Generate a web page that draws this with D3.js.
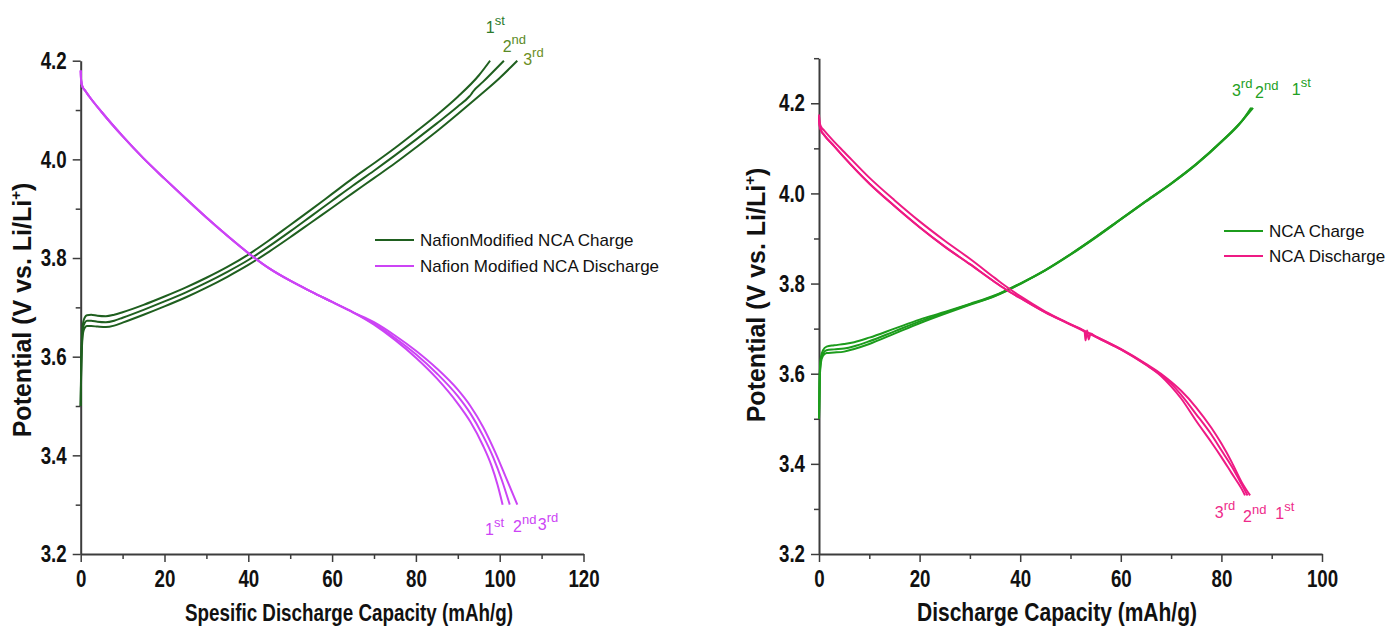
<!DOCTYPE html>
<html>
<head>
<meta charset="utf-8">
<script src="https://cdn.jsdelivr.net/npm/d3@7"></script>
<style>
  html, body { margin: 0; padding: 0; background: #fff; }
  svg { display: block; }
  .tick text { font-family: "Liberation Sans", Arial, sans-serif; font-weight: bold; font-size: 24px; fill: #111; }
</style>
</head>
<body>
<svg id="chart" width="1391" height="628"></svg>
<script>
// ---- Nafion-modified NCA: charge curves, cycles 1-3 (capacity mAh/g, potential V)
const nafionCharge1 = [[0,3.50],[0.1,3.58],[0.3,3.64],[0.6,3.67],[1,3.68],[1.5,3.684],[2.5,3.685],[4,3.683],[6,3.682],[8,3.685],[10,3.69],[15,3.705],[20,3.722],[25,3.74],[30,3.76],[35,3.782],[40,3.807],[45,3.836],[50,3.867],[55,3.898],[60,3.93],[65,3.962],[70,3.992],[75,4.023],[80,4.056],[85,4.09],[90,4.127],[95,4.17],[97.7,4.2]];
const nafionCharge2 = [[0,3.50],[0.1,3.57],[0.3,3.63],[0.6,3.66],[1,3.669],[1.5,3.673],[2.5,3.673],[4,3.671],[6,3.67],[8,3.673],[10,3.679],[15,3.695],[20,3.712],[25,3.73],[30,3.75],[35,3.772],[40,3.796],[45,3.824],[50,3.854],[55,3.885],[60,3.916],[65,3.947],[70,3.977],[75,4.008],[80,4.04],[85,4.073],[90,4.107],[92.8,4.128],[93.2,4.132],[93.6,4.137],[96,4.157],[101,4.2]];
const nafionCharge3 = [[0,3.50],[0.1,3.56],[0.3,3.62],[0.6,3.65],[1,3.659],[1.5,3.662],[2.5,3.662],[4,3.661],[6,3.66],[8,3.663],[10,3.669],[15,3.685],[20,3.702],[25,3.72],[30,3.74],[35,3.762],[40,3.786],[45,3.813],[50,3.842],[55,3.872],[60,3.902],[65,3.932],[70,3.962],[75,3.992],[80,4.024],[85,4.057],[90,4.092],[95,4.128],[100,4.165],[104.2,4.2]];

// ---- Nafion-modified NCA: discharge curves, cycles 1-3
const nafionDischarge1 = [[0,4.18],[0.1,4.16],[0.4,4.148],[1,4.14],[2,4.128],[5,4.096],[10,4.047],[15,4.002],[20,3.961],[25,3.921],[30,3.882],[35,3.845],[40,3.81],[45,3.779],[50,3.754],[55,3.732],[60,3.711],[65,3.69],[70,3.665],[75,3.634],[80,3.598],[85,3.556],[90,3.505],[93,3.468],[96,3.42],[98,3.38],[99.5,3.34],[100.7,3.3]];
const nafionDischarge2 = [[0,4.18],[0.1,4.16],[0.4,4.148],[1,4.14],[2,4.128],[5,4.096],[10,4.047],[15,4.002],[20,3.961],[25,3.921],[30,3.882],[35,3.845],[40,3.81],[45,3.779],[50,3.754],[55,3.732],[60,3.711],[65,3.69],[70,3.667],[75,3.638],[80,3.605],[85,3.566],[90,3.52],[93,3.485],[96,3.44],[98.5,3.395],[100.5,3.35],[102.4,3.3]];
const nafionDischarge3 = [[0,4.18],[0.1,4.16],[0.4,4.148],[1,4.14],[2,4.128],[5,4.096],[10,4.047],[15,4.002],[20,3.961],[25,3.921],[30,3.882],[35,3.845],[40,3.81],[45,3.779],[50,3.754],[55,3.732],[60,3.711],[65,3.69],[70,3.67],[75,3.643],[80,3.612],[85,3.576],[90,3.533],[93,3.5],[96,3.458],[99,3.405],[101.5,3.355],[104.2,3.3]];

// ---- Pristine NCA: charge curves, cycles 1-3
const ncaCharge1 = [[0,3.50],[0.15,3.60],[0.4,3.638],[0.8,3.652],[1.5,3.66],[3,3.663],[5,3.666],[7,3.670],[10,3.68],[15,3.70],[20,3.72],[25,3.737],[30,3.755],[35,3.774],[37,3.784],[40,3.80],[45,3.83],[50,3.865],[55,3.903],[60,3.943],[65,3.983],[70,4.022],[75,4.065],[80,4.115],[84,4.16],[86.3,4.19]];
const ncaCharge2 = [[0,3.50],[0.15,3.595],[0.4,3.632],[0.8,3.645],[1.5,3.652],[3,3.654],[5,3.656],[7,3.661],[10,3.672],[15,3.694],[20,3.716],[25,3.735],[30,3.754],[35,3.773],[37,3.783],[40,3.80],[45,3.83],[50,3.865],[55,3.903],[60,3.943],[65,3.983],[70,4.022],[75,4.065],[80,4.115],[84,4.16],[86.1,4.19]];
const ncaCharge3 = [[0,3.50],[0.15,3.59],[0.4,3.626],[0.8,3.64],[1.5,3.646],[3,3.647],[5,3.649],[7,3.655],[10,3.666],[15,3.689],[20,3.712],[25,3.733],[30,3.753],[35,3.772],[37,3.782],[40,3.799],[45,3.829],[50,3.864],[55,3.902],[60,3.942],[65,3.982],[70,4.021],[75,4.064],[80,4.114],[84,4.159],[85.9,4.19]];

// ---- Pristine NCA: discharge curves, cycles 1-3
const ncaDischarge1 = [[0,4.175],[0.1,4.16],[0.4,4.148],[1,4.14],[3,4.115],[5,4.092],[10,4.035],[15,3.985],[20,3.938],[25,3.895],[30,3.855],[35,3.812],[37,3.795],[40,3.772],[45,3.738],[50,3.71],[55,3.683],[60,3.655],[65,3.622],[68,3.60],[70,3.582],[72,3.562],[75,3.525],[78,3.48],[80,3.445],[82,3.405],[84,3.36],[85.7,3.33]];
const ncaDischarge2 = [[0,4.17],[0.1,4.152],[0.4,4.14],[1,4.13],[3,4.105],[5,4.08],[10,4.022],[15,3.972],[20,3.925],[25,3.882],[30,3.843],[35,3.803],[37,3.788],[40,3.768],[45,3.736],[50,3.709],[55,3.682],[60,3.654],[65,3.62],[68,3.597],[70,3.578],[72,3.553],[75,3.51],[78,3.465],[80,3.43],[82,3.395],[84,3.355],[85.2,3.33]];
const ncaDischarge3 = [[0,4.17],[0.1,4.152],[0.4,4.14],[1,4.13],[3,4.105],[5,4.08],[10,4.022],[15,3.972],[20,3.925],[25,3.882],[30,3.843],[35,3.803],[37,3.788],[40,3.768],[45,3.736],[50,3.709],[52.8,3.693],[53.0,3.674],[53.3,3.696],[53.6,3.676],[54,3.689],[55,3.682],[60,3.654],[65,3.62],[68,3.595],[70,3.572],[72,3.545],[75,3.495],[78,3.448],[80,3.415],[82,3.38],[84,3.345],[84.7,3.33]];

// ---- Axis ticks
const leftXTicks = [0, 20, 40, 60, 80, 100, 120];
const leftXMinor = [10, 30, 50, 70, 90, 110];
const leftYTicks = [3.2, 3.4, 3.6, 3.8, 4.0, 4.2];
const leftYMinor = [3.3, 3.5, 3.7, 3.9, 4.1];
const rightXTicks = [0, 20, 40, 60, 80, 100];
const rightXMinor = [10, 30, 50, 70, 90];
const rightYTicks = [3.2, 3.4, 3.6, 3.8, 4.0, 4.2];
const rightYMinor = [3.3, 3.5, 3.7, 3.9, 4.1, 4.3];

// ---- Text
const leftXTitle = "Spesific Discharge Capacity (mAh/g)";
const rightXTitle = "Discharge Capacity (mAh/g)";
const leftLegend = ["NafionModified NCA Charge", "Nafion Modified NCA Discharge"];
const rightLegend = ["NCA Charge", "NCA Discharge"];
const cycleNumbers = ["1", "2", "3"];
const cycleSuffixes = ["st", "nd", "rd"];

// Cycle label anchors in data units [capacity, potential]
const leftChargeLabelAt = [[96.7, 4.256], [100.7, 4.218], [105.6, 4.191]];
const leftDischargeLabelAt = [[96.5, 3.2385], [103.2, 3.2446], [109.1, 3.2487]];
const rightChargeLabelAt = [[94.0, 4.218], [86.7, 4.212], [82.1, 4.216]];
const rightDischargeLabelAt = [[90.7, 3.278], [84.3, 3.271], [78.7, 3.28]];

const svg = d3.select("#chart");
const AXIS = "#3c3c3c";
const FONT = '"Liberation Sans", Arial, sans-serif';
const NARROW = 0.78; // horizontal squeeze for the condensed bold tick lettering

function drawPanel(cfg) {
  const g = svg.append("g");
  const x = d3.scaleLinear().domain(cfg.xDomain).range(cfg.xRange);
  const y = d3.scaleLinear().domain(cfg.yDomain).range(cfg.yRange);

  // minor ticks
  g.append("g").attr("transform", `translate(0,${cfg.yRange[0]})`)
    .call(d3.axisBottom(x).tickValues(cfg.xMinor).tickSize(5).tickFormat("").tickSizeOuter(0))
    .call(a => a.select(".domain").remove())
    .call(a => a.selectAll("line").attr("stroke", AXIS).attr("stroke-width", 1.5));
  g.append("g").attr("transform", `translate(${cfg.xRange[0]},0)`)
    .call(d3.axisLeft(y).tickValues(cfg.yMinor).tickSize(5).tickFormat("").tickSizeOuter(0))
    .call(a => a.select(".domain").remove())
    .call(a => a.selectAll("line").attr("stroke", AXIS).attr("stroke-width", 1.5));

  // major axes
  g.append("g").attr("transform", `translate(0,${cfg.yRange[0]})`)
    .call(d3.axisBottom(x).tickValues(cfg.xTicks).tickSize(8).tickPadding(8).tickSizeOuter(0).tickFormat(d3.format("d")))
    .call(a => a.select(".domain").attr("stroke", AXIS).attr("stroke-width", 2))
    .call(a => a.selectAll("line").attr("stroke", AXIS).attr("stroke-width", 1.5))
    .call(a => a.selectAll("text").attr("transform", `scale(${NARROW},1)`));
  g.append("g").attr("transform", `translate(${cfg.xRange[0]},0)`)
    .call(d3.axisLeft(y).tickValues(cfg.yTicks).tickSize(8).tickPadding(6).tickSizeOuter(0).tickFormat(d3.format(".1f")))
    .call(a => a.select(".domain").attr("stroke", AXIS).attr("stroke-width", 2))
    .call(a => a.selectAll("line").attr("stroke", AXIS).attr("stroke-width", 1.5))
    .call(a => a.selectAll("text").attr("x", -14 / NARROW).attr("transform", `scale(${NARROW},1)`));

  const line = d3.line().x(d => x(d[0])).y(d => y(d[1])).curve(d3.curveMonotoneX);

  cfg.series.forEach(s => {
    g.append("path").datum(s.data)
      .attr("fill", "none").attr("stroke", s.color)
      .attr("stroke-width", 2).attr("stroke-linejoin", "round")
      .attr("d", line);
  });

  // cycle labels
  cfg.labels.forEach(lb => {
    lb.at.forEach((p, i) => {
      const t = g.append("text")
        .attr("x", x(p[0])).attr("y", y(p[1]))
        .attr("font-family", FONT).attr("font-size", 16)
        .attr("fill", lb.colors[i]);
      t.append("tspan").text(cycleNumbers[i]);
      t.append("tspan").attr("font-size", 13).attr("dy", -8).text(cycleSuffixes[i]);
    });
  });

  // legend
  cfg.legend.forEach((item, i) => {
    const ly = cfg.legendY + i * cfg.legendGap;
    g.append("line")
      .attr("x1", cfg.legendX).attr("x2", cfg.legendX + 39)
      .attr("y1", ly).attr("y2", ly)
      .attr("stroke", item.color).attr("stroke-width", 2);
    g.append("text")
      .attr("x", cfg.legendX + 45).attr("y", ly + 6)
      .attr("font-family", FONT).attr("font-size", 17).attr("fill", "#111")
      .text(item.label);
  });

  // axis titles
  g.append("text")
    .attr("x", cfg.xTitleX).attr("y", cfg.xTitleY)
    .attr("text-anchor", "middle")
    .attr("font-family", FONT).attr("font-weight", "bold")
    .attr("font-size", cfg.xTitleSize).attr("fill", "#111")
    .attr("textLength", cfg.xTitleWidth).attr("lengthAdjust", "spacingAndGlyphs")
    .text(cfg.xTitle);

  const yt = g.append("text")
    .attr("transform", `translate(${cfg.yTitleX},${cfg.yTitleY}) rotate(-90)`)
    .attr("text-anchor", "middle")
    .attr("font-family", FONT).attr("font-weight", "bold")
    .attr("font-size", 25).attr("fill", "#111");
  yt.append("tspan").text("Potential (V vs. Li/Li");
  yt.append("tspan").attr("font-size", 15).attr("dy", -10).text("+");
  yt.append("tspan").attr("dy", 10).text(")");
}

drawPanel({
  xDomain: [0, 120], xRange: [80.7, 583.5],
  yDomain: [3.2, 4.2], yRange: [554, 60.7],
  xTicks: leftXTicks, xMinor: leftXMinor, yTicks: leftYTicks, yMinor: leftYMinor,
  series: [
    { data: nafionCharge1, color: "#1f5f1f" },
    { data: nafionCharge2, color: "#1f5f1f" },
    { data: nafionCharge3, color: "#1f5f1f" },
    { data: nafionDischarge1, color: "#cc44f5" },
    { data: nafionDischarge2, color: "#cc44f5" },
    { data: nafionDischarge3, color: "#cc44f5" }
  ],
  labels: [
    { at: leftChargeLabelAt, colors: ["#2b7a2b", "#5a8a26", "#6b8e23"] },
    { at: leftDischargeLabelAt, colors: ["#cc44f5", "#cc44f5", "#cc44f5"] }
  ],
  legend: [
    { label: leftLegend[0], color: "#1f5f1f" },
    { label: leftLegend[1], color: "#cc44f5" }
  ],
  legendX: 375, legendY: 240, legendGap: 26,
  xTitle: leftXTitle, xTitleX: 349, xTitleY: 621, xTitleSize: 23, xTitleWidth: 328,
  yTitleX: 31, yTitleY: 310
});

drawPanel({
  xDomain: [0, 100], xRange: [819, 1322],
  yDomain: [3.2, 4.3], yRange: [554, 58.2],
  xTicks: rightXTicks, xMinor: rightXMinor, yTicks: rightYTicks, yMinor: rightYMinor,
  series: [
    { data: ncaCharge1, color: "#1c9c1c" },
    { data: ncaCharge2, color: "#1c9c1c" },
    { data: ncaCharge3, color: "#1c9c1c" },
    { data: ncaDischarge1, color: "#ee1a84" },
    { data: ncaDischarge2, color: "#ee1a84" },
    { data: ncaDischarge3, color: "#ee1a84" }
  ],
  labels: [
    { at: rightChargeLabelAt, colors: ["#22a022", "#22a022", "#22a022"] },
    { at: rightDischargeLabelAt, colors: ["#ee2a8a", "#ee2a8a", "#ee2a8a"] }
  ],
  legend: [
    { label: rightLegend[0], color: "#1c9c1c" },
    { label: rightLegend[1], color: "#ee1a84" }
  ],
  legendX: 1224, legendY: 231, legendGap: 25,
  xTitle: rightXTitle, xTitleX: 1057, xTitleY: 621, xTitleSize: 25, xTitleWidth: 280,
  yTitleX: 765, yTitleY: 295
});
</script>
</body>
</html>
